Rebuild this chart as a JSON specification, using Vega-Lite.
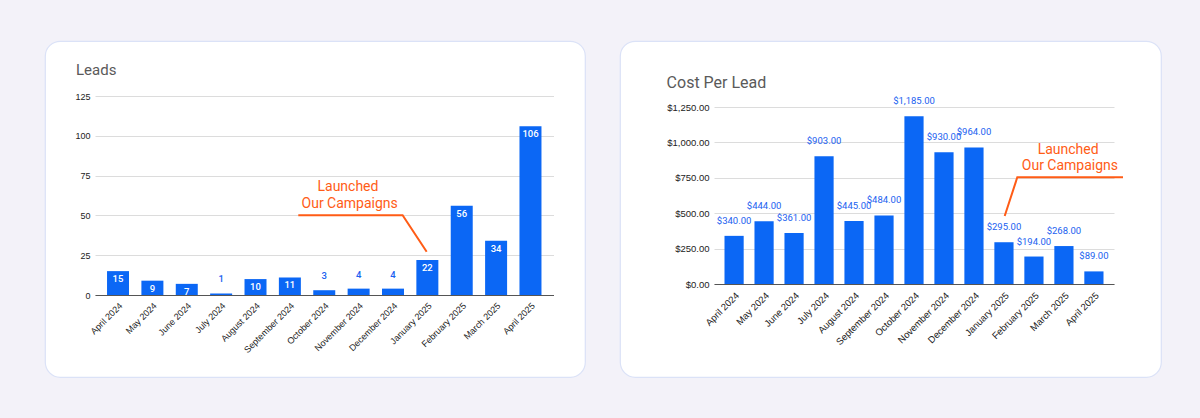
{
  "$schema": "https://vega.github.io/schema/vega-lite/v6.json",
  "background": "#f3f2f9",
  "padding": {"left": 44, "top": 40, "right": 42, "bottom": 42},
  "spacing": 33,
  "config": {
    "view": {"fill": "#ffffff", "stroke": "#dbe2f7", "strokeWidth": 1.2, "cornerRadius": 15},
    "axis": {"labelFont": "Liberation Sans", "labelColor": "#222222", "gridColor": "#dcdcdc", "domainColor": "#555555", "labelOverlap": false},
    "title": {"font": "Roboto", "color": "#5a5a5a", "fontWeight": "normal", "anchor": "start", "frame": "group", "baseline": "alphabetic"}
  },
  "hconcat": [
    {
      "width": 540,
      "height": 336,
      "title": {"text": "Leads", "fontSize": 15, "dx": 31, "offset": -37.3},
      "layer": [
        {
          "data": {"values": [
            {"month": "April 2024", "leads": 15},
            {"month": "May 2024", "leads": 9},
            {"month": "June 2024", "leads": 7},
            {"month": "July 2024", "leads": 1},
            {"month": "August 2024", "leads": 10},
            {"month": "September 2024", "leads": 11},
            {"month": "October 2024", "leads": 3},
            {"month": "November 2024", "leads": 4},
            {"month": "December 2024", "leads": 4},
            {"month": "January 2025", "leads": 22},
            {"month": "February 2025", "leads": 56},
            {"month": "March 2025", "leads": 34},
            {"month": "April 2025", "leads": 106}
          ]},
          "encoding": {
            "x": {"field": "month", "type": "ordinal", "sort": null, "title": null,
              "scale": {"range": [50, 508.5], "paddingInner": 0.36, "paddingOuter": 0.35},
              "axis": {"labelAngle": -45, "offset": -82, "ticks": false, "labelPadding": 6, "labelFontSize": 9, "grid": false, "domainWidth": 1.2}},
            "y": {"field": "leads", "type": "quantitative", "title": null,
              "scale": {"domain": [0, 125], "range": [254, 55], "nice": false, "zero": true},
              "axis": {"values": [0, 25, 50, 75, 100, 125], "offset": -50, "domain": false, "ticks": false, "labelPadding": 5, "labelFontSize": 9, "grid": true}}
          },
          "layer": [
            {"mark": {"type": "bar", "color": "#0b67f5"}},
            {
              "transform": [{"filter": "datum.leads >= 5"}],
              "mark": {"type": "text", "color": "#ffffff", "baseline": "middle", "dy": 8, "font": "Roboto", "fontSize": 9.5, "fontWeight": 500},
              "encoding": {"text": {"field": "leads", "type": "quantitative"}}
            },
            {
              "transform": [{"filter": "datum.leads < 5"}],
              "mark": {"type": "text", "color": "#1a61f0", "baseline": "middle", "dy": -14, "font": "Roboto", "fontSize": 9.5, "fontWeight": 500},
              "encoding": {"text": {"field": "leads", "type": "quantitative"}}
            }
          ]
        },
        {
          "encoding": {
            "x": {"field": "px", "type": "quantitative", "title": null, "scale": {"domain": [-0.67, 12.67], "range": [50, 508.5], "nice": false, "zero": false}, "axis": null},
            "y": {"field": "py", "type": "quantitative", "title": null,
              "scale": {"domain": [0, 125], "range": [254, 55], "nice": false, "zero": true},
              "axis": {"values": [0, 25, 50, 75, 100, 125], "offset": -50, "domain": false, "ticks": false, "labelPadding": 5, "labelFontSize": 9, "grid": true}}
          },
          "layer": [
            {
              "data": {"values": [
                {"px": 5.245, "py": 50.06},
                {"px": 8.28, "py": 50.06},
                {"px": 8.98, "py": 27.2}
              ]},
              "mark": {"type": "line", "color": "#ff5c16", "strokeWidth": 2}
            },
            {
              "data": {"values": [
                {"px": 6.69, "py": 65.3, "note": "Launched"},
                {"px": 6.74, "py": 54.6, "note": "Our Campaigns"}
              ]},
              "mark": {"type": "text", "color": "#ff5c16", "font": "Roboto", "fontSize": 14, "align": "center", "baseline": "alphabetic"},
              "encoding": {"text": {"field": "note", "type": "nominal"}}
            }
          ]
        }
      ],
      "resolve": {"scale": {"x": "independent"}, "axis": {"x": "independent"}}
    },
    {
      "width": 541,
      "height": 336,
      "title": {"text": "Cost Per Lead", "fontSize": 16, "dx": 46.6, "offset": -50},
      "layer": [
        {
          "data": {"values": [
            {"month": "April 2024", "cpl": 340},
            {"month": "May 2024", "cpl": 444},
            {"month": "June 2024", "cpl": 361},
            {"month": "July 2024", "cpl": 903},
            {"month": "August 2024", "cpl": 445},
            {"month": "September 2024", "cpl": 484},
            {"month": "October 2024", "cpl": 1185},
            {"month": "November 2024", "cpl": 930},
            {"month": "December 2024", "cpl": 964},
            {"month": "January 2025", "cpl": 295},
            {"month": "February 2025", "cpl": 194},
            {"month": "March 2025", "cpl": 268},
            {"month": "April 2025", "cpl": 89}
          ]},
          "encoding": {
            "x": {"field": "month", "type": "ordinal", "sort": null, "title": null,
              "scale": {"range": [94, 494], "paddingInner": 0.36, "paddingOuter": 0.35},
              "axis": {"labelAngle": -45, "offset": -93, "ticks": false, "labelPadding": 6, "labelFontSize": 9.5, "grid": false, "domainWidth": 1.2}},
            "y": {"field": "cpl", "type": "quantitative", "title": null,
              "scale": {"domain": [0, 1250], "range": [243, 66], "nice": false, "zero": true},
              "axis": {"values": [0, 250, 500, 750, 1000, 1250], "format": "$,.2f", "offset": -94, "domain": false, "ticks": false, "labelPadding": 5, "labelFontSize": 9.5, "grid": true}}
          },
          "layer": [
            {"mark": {"type": "bar", "color": "#0b67f5"}},
            {
              "mark": {"type": "text", "color": "#1a61f0", "baseline": "middle", "dy": -15, "font": "Roboto", "fontSize": 9.5},
              "encoding": {"text": {"field": "cpl", "type": "quantitative", "format": "$,.2f"}}
            }
          ]
        },
        {
          "encoding": {
            "x": {"field": "px", "type": "quantitative", "title": null, "scale": {"domain": [-0.67, 12.67], "range": [94, 494], "nice": false, "zero": false}, "axis": null},
            "y": {"field": "py", "type": "quantitative", "title": null,
              "scale": {"domain": [0, 1250], "range": [243, 66], "nice": false, "zero": true},
              "axis": {"values": [0, 250, 500, 750, 1000, 1250], "format": "$,.2f", "offset": -94, "domain": false, "ticks": false, "labelPadding": 5, "labelFontSize": 9.5, "grid": true}}
          },
          "layer": [
            {
              "data": {"values": [
                {"px": 12.97, "py": 753.5},
                {"px": 9.445, "py": 753.5},
                {"px": 9.025, "py": 480}
              ]},
              "mark": {"type": "line", "color": "#ff5c16", "strokeWidth": 2}
            },
            {
              "data": {"values": [
                {"px": 11.14, "py": 920, "note": "Launched"},
                {"px": 11.2, "py": 805, "note": "Our Campaigns"}
              ]},
              "mark": {"type": "text", "color": "#ff5c16", "font": "Roboto", "fontSize": 14, "align": "center", "baseline": "alphabetic"},
              "encoding": {"text": {"field": "note", "type": "nominal"}}
            }
          ]
        }
      ],
      "resolve": {"scale": {"x": "independent"}, "axis": {"x": "independent"}}
    }
  ]
}
